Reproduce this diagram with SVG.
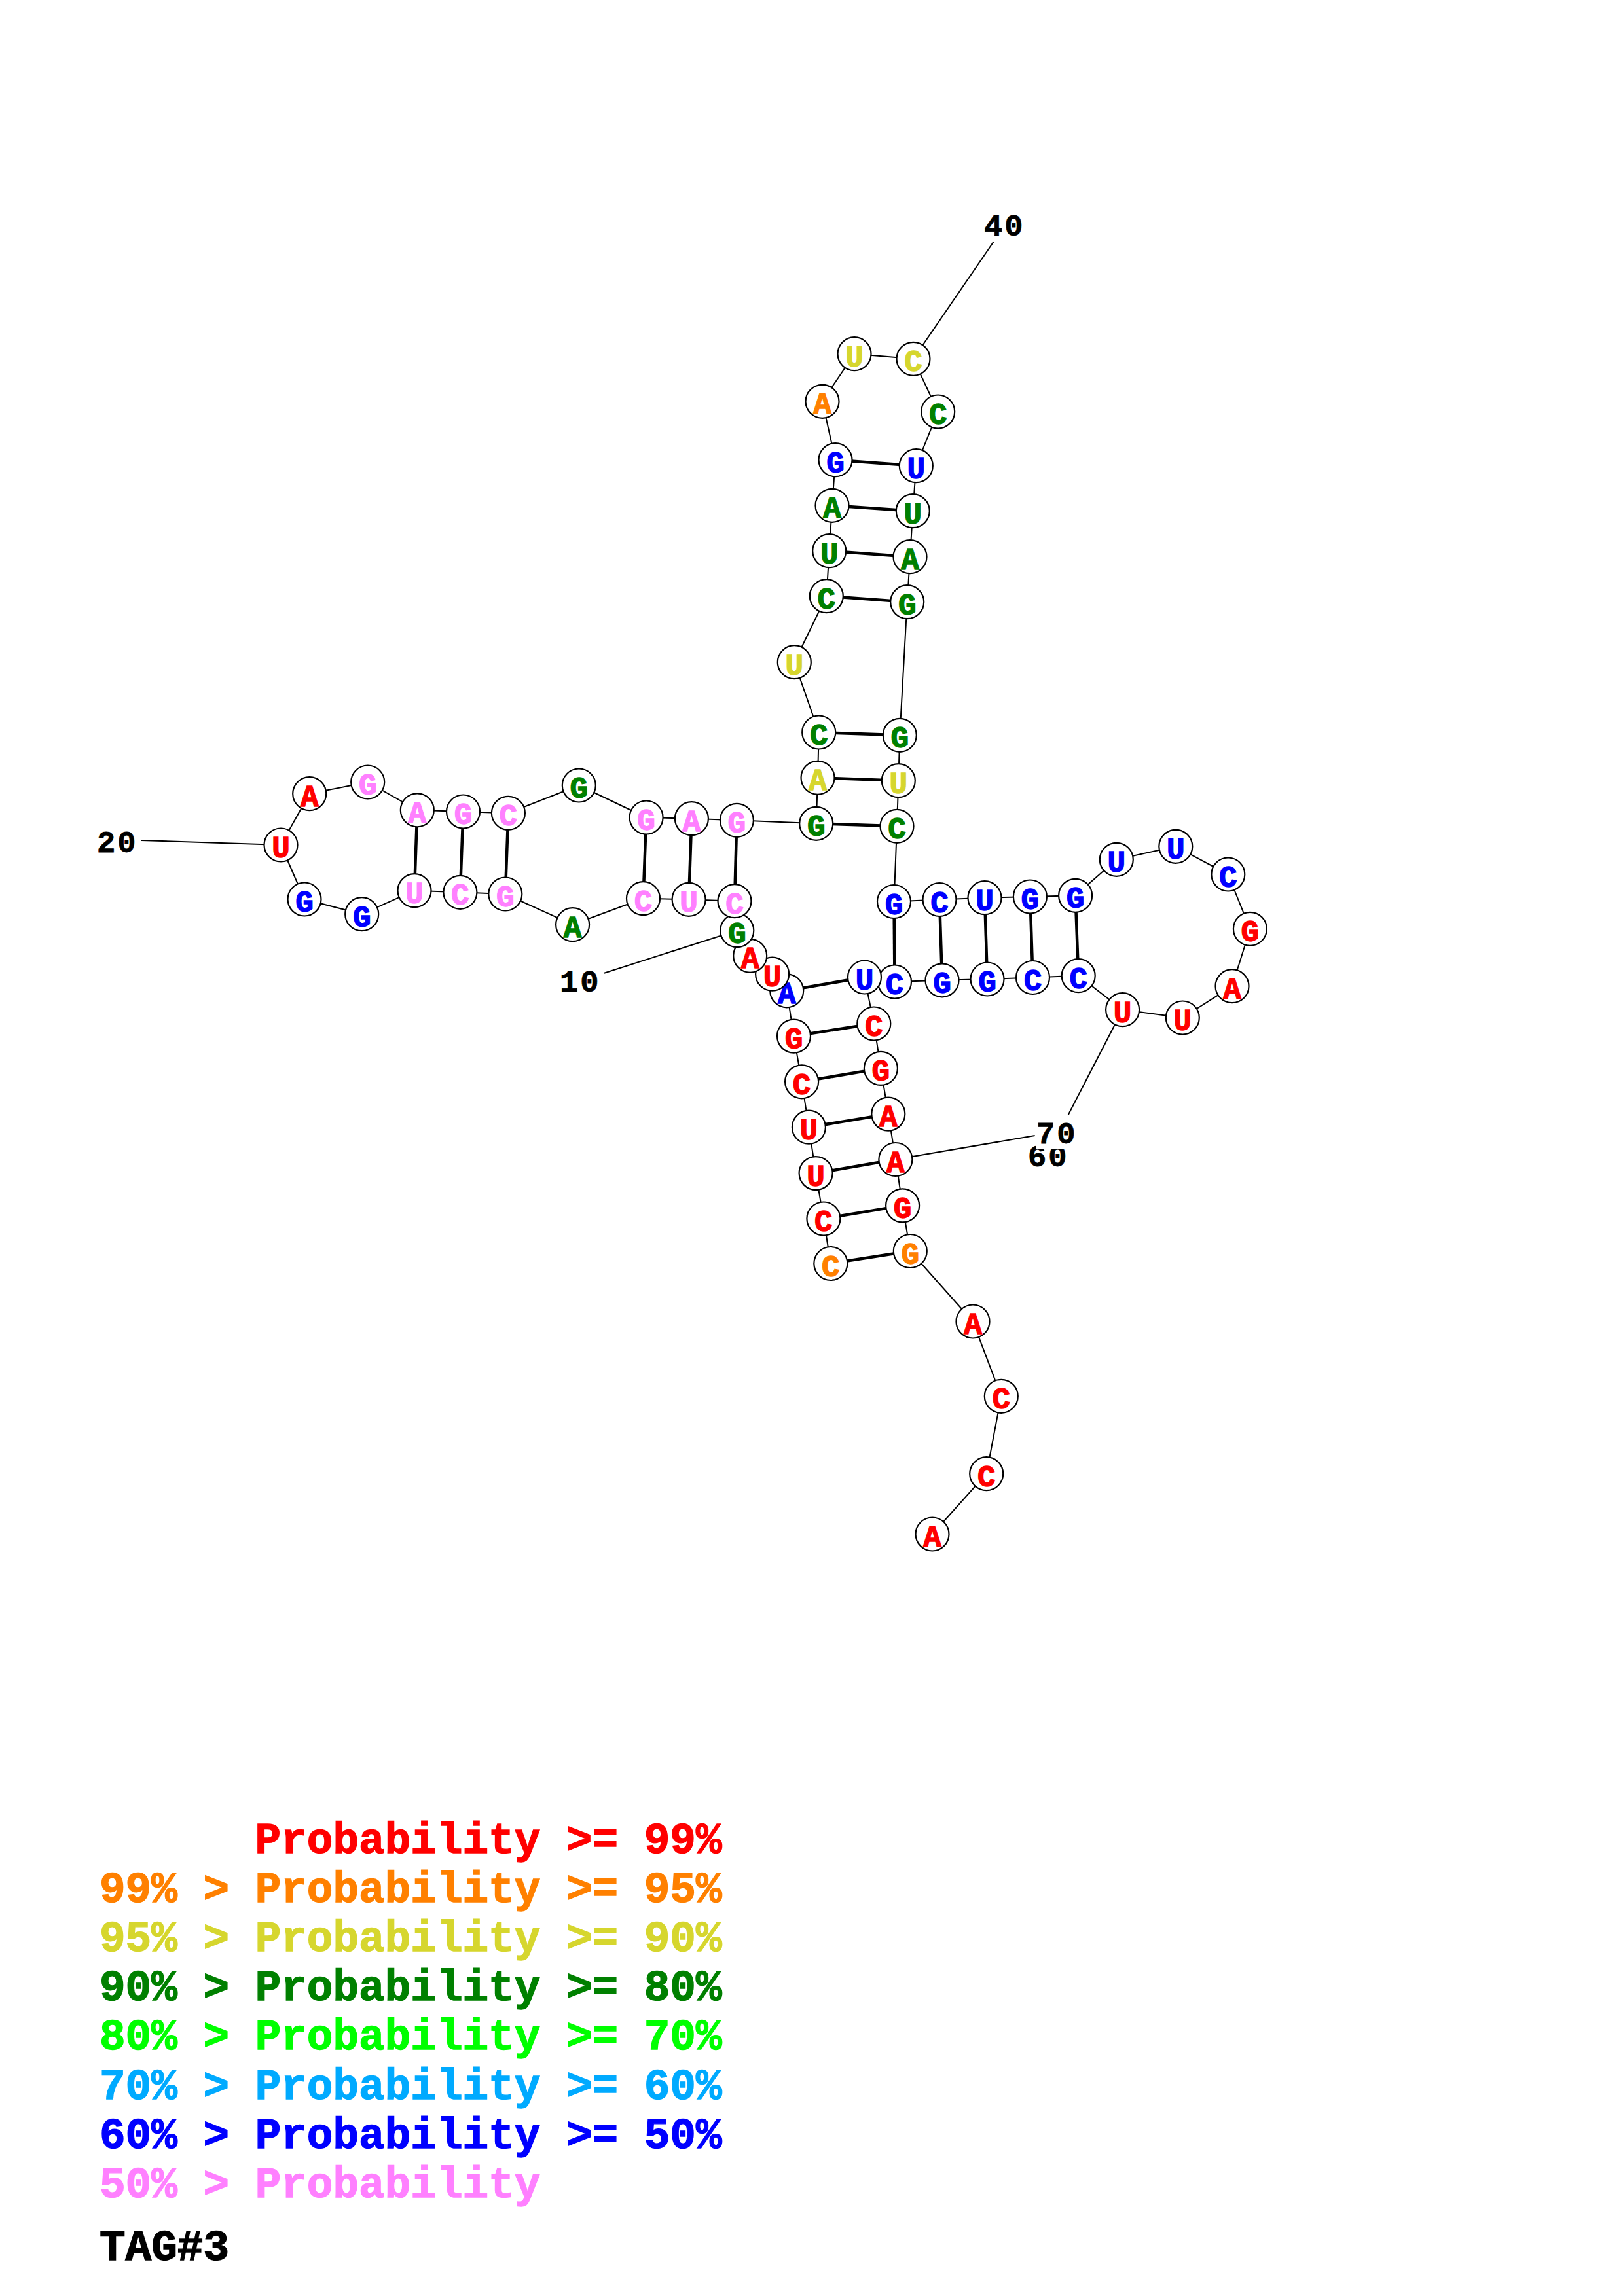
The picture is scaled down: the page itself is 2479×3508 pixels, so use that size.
<svg xmlns="http://www.w3.org/2000/svg" width="2479" height="3508" viewBox="0 0 2479 3508">
<style>
.bb{stroke:#000;stroke-width:2;fill:none}
.bp{stroke:#000;stroke-width:4.5;fill:none}
.ll{stroke:#000;stroke-width:2;fill:none}
circle{fill:#fff;stroke:#000;stroke-width:2.2}
.nt{font-family:"Liberation Mono","DejaVu Sans Mono",monospace;font-weight:bold;font-size:46px;text-anchor:middle;stroke-width:1.4}
.lab{font-family:"Liberation Mono","DejaVu Sans Mono",monospace;font-weight:bold;font-size:47px;letter-spacing:3px;fill:#000;stroke:#000;stroke-width:0.8}
.lg{font-family:"Liberation Mono","DejaVu Sans Mono",monospace;font-weight:bold;font-size:66px;stroke-width:1.4}
.r{fill:#ff0000;stroke:#ff0000}.o{fill:#ff8000;stroke:#ff8000}.y{fill:#d6d62e;stroke:#d6d62e}.g{fill:#008000;stroke:#008000}.lm{fill:#00ff00;stroke:#00ff00}.lb{fill:#00aaff;stroke:#00aaff}.b{fill:#0000ff;stroke:#0000ff}.p{fill:#ff80ff;stroke:#ff80ff}.k{fill:#000;stroke:#000}
</style>
<rect x="0" y="0" width="2479" height="3508" fill="#fff"/>
<g id="connectors">
<g id="backbone">
<line class="bb" x1="1268.8" y1="1930.5" x2="1257.9" y2="1862"/>
<line class="bb" x1="1257.9" y1="1862" x2="1246.1" y2="1792.6"/>
<line class="bb" x1="1246.1" y1="1792.6" x2="1235.4" y2="1722.2"/>
<line class="bb" x1="1235.4" y1="1722.2" x2="1224.6" y2="1652.8"/>
<line class="bb" x1="1224.6" y1="1652.8" x2="1212.5" y2="1583.1"/>
<line class="bb" x1="1212.5" y1="1583.1" x2="1201.7" y2="1513.8"/>
<line class="bb" x1="1201.7" y1="1513.8" x2="1179.6" y2="1488.2"/>
<line class="bb" x1="1179.6" y1="1488.2" x2="1145.7" y2="1460.3"/>
<line class="bb" x1="1145.7" y1="1460.3" x2="1125.8" y2="1421.7"/>
<line class="bb" x1="1125.8" y1="1421.7" x2="1122" y2="1376.7"/>
<line class="bb" x1="1122" y1="1376.7" x2="1052.1" y2="1374.3"/>
<line class="bb" x1="1052.1" y1="1374.3" x2="982.5" y2="1372.7"/>
<line class="bb" x1="982.5" y1="1372.7" x2="874.6" y2="1412.7"/>
<line class="bb" x1="874.6" y1="1412.7" x2="771.8" y2="1366"/>
<line class="bb" x1="771.8" y1="1366" x2="702.9" y2="1363.3"/>
<line class="bb" x1="702.9" y1="1363.3" x2="633" y2="1360.7"/>
<line class="bb" x1="633" y1="1360.7" x2="552.7" y2="1396.7"/>
<line class="bb" x1="552.7" y1="1396.7" x2="465" y2="1374"/>
<line class="bb" x1="465" y1="1374" x2="429" y2="1291"/>
<line class="bb" x1="429" y1="1291" x2="472.7" y2="1212.7"/>
<line class="bb" x1="472.7" y1="1212.7" x2="561.7" y2="1195"/>
<line class="bb" x1="561.7" y1="1195" x2="637.3" y2="1237.8"/>
<line class="bb" x1="637.3" y1="1237.8" x2="707.5" y2="1240"/>
<line class="bb" x1="707.5" y1="1240" x2="776.4" y2="1242.3"/>
<line class="bb" x1="776.4" y1="1242.3" x2="884.3" y2="1200"/>
<line class="bb" x1="884.3" y1="1200" x2="987.1" y2="1249"/>
<line class="bb" x1="987.1" y1="1249" x2="1056.4" y2="1250.7"/>
<line class="bb" x1="1056.4" y1="1250.7" x2="1125.4" y2="1253.3"/>
<line class="bb" x1="1125.4" y1="1253.3" x2="1246.7" y2="1258.3"/>
<line class="bb" x1="1246.7" y1="1258.3" x2="1249" y2="1188.3"/>
<line class="bb" x1="1249" y1="1188.3" x2="1250.7" y2="1119"/>
<line class="bb" x1="1250.7" y1="1119" x2="1213.3" y2="1011.7"/>
<line class="bb" x1="1213.3" y1="1011.7" x2="1262.3" y2="910.7"/>
<line class="bb" x1="1262.3" y1="910.7" x2="1266.7" y2="841.7"/>
<line class="bb" x1="1266.7" y1="841.7" x2="1271" y2="772.3"/>
<line class="bb" x1="1271" y1="772.3" x2="1276" y2="702.7"/>
<line class="bb" x1="1276" y1="702.7" x2="1256" y2="613.3"/>
<line class="bb" x1="1256" y1="613.3" x2="1305" y2="540.7"/>
<line class="bb" x1="1305" y1="540.7" x2="1395" y2="548.3"/>
<line class="bb" x1="1395" y1="548.3" x2="1432.7" y2="629"/>
<line class="bb" x1="1432.7" y1="629" x2="1399.3" y2="711.7"/>
<line class="bb" x1="1399.3" y1="711.7" x2="1394.3" y2="780.7"/>
<line class="bb" x1="1394.3" y1="780.7" x2="1390" y2="850.7"/>
<line class="bb" x1="1390" y1="850.7" x2="1385.7" y2="919.7"/>
<line class="bb" x1="1385.7" y1="919.7" x2="1374.3" y2="1123.3"/>
<line class="bb" x1="1374.3" y1="1123.3" x2="1372.3" y2="1192.7"/>
<line class="bb" x1="1372.3" y1="1192.7" x2="1370" y2="1262.3"/>
<line class="bb" x1="1370" y1="1262.3" x2="1365.5" y2="1377.5"/>
<line class="bb" x1="1365.5" y1="1377.5" x2="1435" y2="1374.5"/>
<line class="bb" x1="1435" y1="1374.5" x2="1504" y2="1371.7"/>
<line class="bb" x1="1504" y1="1371.7" x2="1573.4" y2="1370"/>
<line class="bb" x1="1573.4" y1="1370" x2="1642.6" y2="1368.3"/>
<line class="bb" x1="1642.6" y1="1368.3" x2="1705.3" y2="1313.3"/>
<line class="bb" x1="1705.3" y1="1313.3" x2="1795.8" y2="1293.3"/>
<line class="bb" x1="1795.8" y1="1293.3" x2="1875.8" y2="1336"/>
<line class="bb" x1="1875.8" y1="1336" x2="1909.4" y2="1419.3"/>
<line class="bb" x1="1909.4" y1="1419.3" x2="1882" y2="1506.7"/>
<line class="bb" x1="1882" y1="1506.7" x2="1806.3" y2="1555"/>
<line class="bb" x1="1806.3" y1="1555" x2="1714.6" y2="1542.7"/>
<line class="bb" x1="1714.6" y1="1542.7" x2="1647.2" y2="1490.7"/>
<line class="bb" x1="1647.2" y1="1490.7" x2="1577.5" y2="1493.5"/>
<line class="bb" x1="1577.5" y1="1493.5" x2="1508" y2="1496"/>
<line class="bb" x1="1508" y1="1496" x2="1439" y2="1497.8"/>
<line class="bb" x1="1439" y1="1497.8" x2="1366.5" y2="1500"/>
<line class="bb" x1="1366.5" y1="1500" x2="1320.5" y2="1493"/>
<line class="bb" x1="1320.5" y1="1493" x2="1334.8" y2="1564"/>
<line class="bb" x1="1334.8" y1="1564" x2="1345.4" y2="1632.4"/>
<line class="bb" x1="1345.4" y1="1632.4" x2="1356.8" y2="1702.1"/>
<line class="bb" x1="1356.8" y1="1702.1" x2="1367.9" y2="1771.5"/>
<line class="bb" x1="1367.9" y1="1771.5" x2="1378.6" y2="1841.9"/>
<line class="bb" x1="1378.6" y1="1841.9" x2="1390.3" y2="1911.5"/>
<line class="bb" x1="1390.3" y1="1911.5" x2="1486" y2="2019"/>
<line class="bb" x1="1486" y1="2019" x2="1529.3" y2="2133.3"/>
<line class="bb" x1="1529.3" y1="2133.3" x2="1506.7" y2="2251.7"/>
<line class="bb" x1="1506.7" y1="2251.7" x2="1424" y2="2344"/>
</g>
<g id="pairs">
<line class="bp" x1="1268.8" y1="1930.5" x2="1390.3" y2="1911.5"/>
<line class="bp" x1="1257.9" y1="1862" x2="1378.6" y2="1841.9"/>
<line class="bp" x1="1246.1" y1="1792.6" x2="1367.9" y2="1771.5"/>
<line class="bp" x1="1235.4" y1="1722.2" x2="1356.8" y2="1702.1"/>
<line class="bp" x1="1224.6" y1="1652.8" x2="1345.4" y2="1632.4"/>
<line class="bp" x1="1212.5" y1="1583.1" x2="1334.8" y2="1564"/>
<line class="bp" x1="1201.7" y1="1513.8" x2="1320.5" y2="1493"/>
<line class="bp" x1="1122" y1="1376.7" x2="1125.4" y2="1253.3"/>
<line class="bp" x1="1052.1" y1="1374.3" x2="1056.4" y2="1250.7"/>
<line class="bp" x1="982.5" y1="1372.7" x2="987.1" y2="1249"/>
<line class="bp" x1="771.8" y1="1366" x2="776.4" y2="1242.3"/>
<line class="bp" x1="702.9" y1="1363.3" x2="707.5" y2="1240"/>
<line class="bp" x1="633" y1="1360.7" x2="637.3" y2="1237.8"/>
<line class="bp" x1="1246.7" y1="1258.3" x2="1370" y2="1262.3"/>
<line class="bp" x1="1249" y1="1188.3" x2="1372.3" y2="1192.7"/>
<line class="bp" x1="1250.7" y1="1119" x2="1374.3" y2="1123.3"/>
<line class="bp" x1="1262.3" y1="910.7" x2="1385.7" y2="919.7"/>
<line class="bp" x1="1266.7" y1="841.7" x2="1390" y2="850.7"/>
<line class="bp" x1="1271" y1="772.3" x2="1394.3" y2="780.7"/>
<line class="bp" x1="1276" y1="702.7" x2="1399.3" y2="711.7"/>
<line class="bp" x1="1365.5" y1="1377.5" x2="1366.5" y2="1500"/>
<line class="bp" x1="1435" y1="1374.5" x2="1439" y2="1497.8"/>
<line class="bp" x1="1504" y1="1371.7" x2="1508" y2="1496"/>
<line class="bp" x1="1573.4" y1="1370" x2="1577.5" y2="1493.5"/>
<line class="bp" x1="1642.6" y1="1368.3" x2="1647.2" y2="1490.7"/>
</g>
<g id="label-lines">
<line class="ll" x1="1395" y1="548.3" x2="1517.7" y2="369.3"/>
<line class="ll" x1="429" y1="1291" x2="216" y2="1284"/>
<line class="ll" x1="1125.8" y1="1421.7" x2="922.9" y2="1486.7"/>
<line class="ll" x1="1367.9" y1="1771.5" x2="1580.7" y2="1735"/>
<line class="ll" x1="1714.6" y1="1542.7" x2="1631.7" y2="1703.3"/>
</g>
</g>
<g id="nodes">
<g id="n1"><circle cx="1268.8" cy="1930.5" r="25.5"/><text class="nt o" x="1268.8" y="1949.5">C</text></g>
<g id="n2"><circle cx="1257.9" cy="1862" r="25.5"/><text class="nt r" x="1257.9" y="1881">C</text></g>
<g id="n3"><circle cx="1246.1" cy="1792.6" r="25.5"/><text class="nt r" x="1246.1" y="1811.6">U</text></g>
<g id="n4"><circle cx="1235.4" cy="1722.2" r="25.5"/><text class="nt r" x="1235.4" y="1741.2">U</text></g>
<g id="n5"><circle cx="1224.6" cy="1652.8" r="25.5"/><text class="nt r" x="1224.6" y="1671.8">C</text></g>
<g id="n6"><circle cx="1212.5" cy="1583.1" r="25.5"/><text class="nt r" x="1212.5" y="1602.1">G</text></g>
<g id="n7"><circle cx="1201.7" cy="1513.8" r="25.5"/><text class="nt b" x="1201.7" y="1532.8">A</text></g>
<g id="n8"><circle cx="1179.6" cy="1488.2" r="25.5"/><text class="nt r" x="1179.6" y="1507.2">U</text></g>
<g id="n9"><circle cx="1145.7" cy="1460.3" r="25.5"/><text class="nt r" x="1145.7" y="1479.3">A</text></g>
<g id="n10"><circle cx="1125.8" cy="1421.7" r="25.5"/><text class="nt g" x="1125.8" y="1440.7">G</text></g>
<g id="n11"><circle cx="1122" cy="1376.7" r="25.5"/><text class="nt p" x="1122" y="1395.7">C</text></g>
<g id="n12"><circle cx="1052.1" cy="1374.3" r="25.5"/><text class="nt p" x="1052.1" y="1393.3">U</text></g>
<g id="n13"><circle cx="982.5" cy="1372.7" r="25.5"/><text class="nt p" x="982.5" y="1391.7">C</text></g>
<g id="n14"><circle cx="874.6" cy="1412.7" r="25.5"/><text class="nt g" x="874.6" y="1431.7">A</text></g>
<g id="n15"><circle cx="771.8" cy="1366" r="25.5"/><text class="nt p" x="771.8" y="1385">G</text></g>
<g id="n16"><circle cx="702.9" cy="1363.3" r="25.5"/><text class="nt p" x="702.9" y="1382.3">C</text></g>
<g id="n17"><circle cx="633" cy="1360.7" r="25.5"/><text class="nt p" x="633" y="1379.7">U</text></g>
<g id="n18"><circle cx="552.7" cy="1396.7" r="25.5"/><text class="nt b" x="552.7" y="1415.7">G</text></g>
<g id="n19"><circle cx="465" cy="1374" r="25.5"/><text class="nt b" x="465" y="1393">G</text></g>
<g id="n20"><circle cx="429" cy="1291" r="25.5"/><text class="nt r" x="429" y="1310">U</text></g>
<g id="n21"><circle cx="472.7" cy="1212.7" r="25.5"/><text class="nt r" x="472.7" y="1231.7">A</text></g>
<g id="n22"><circle cx="561.7" cy="1195" r="25.5"/><text class="nt p" x="561.7" y="1214">G</text></g>
<g id="n23"><circle cx="637.3" cy="1237.8" r="25.5"/><text class="nt p" x="637.3" y="1256.8">A</text></g>
<g id="n24"><circle cx="707.5" cy="1240" r="25.5"/><text class="nt p" x="707.5" y="1259">G</text></g>
<g id="n25"><circle cx="776.4" cy="1242.3" r="25.5"/><text class="nt p" x="776.4" y="1261.3">C</text></g>
<g id="n26"><circle cx="884.3" cy="1200" r="25.5"/><text class="nt g" x="884.3" y="1219">G</text></g>
<g id="n27"><circle cx="987.1" cy="1249" r="25.5"/><text class="nt p" x="987.1" y="1268">G</text></g>
<g id="n28"><circle cx="1056.4" cy="1250.7" r="25.5"/><text class="nt p" x="1056.4" y="1269.7">A</text></g>
<g id="n29"><circle cx="1125.4" cy="1253.3" r="25.5"/><text class="nt p" x="1125.4" y="1272.3">G</text></g>
<g id="n30"><circle cx="1246.7" cy="1258.3" r="25.5"/><text class="nt g" x="1246.7" y="1277.3">G</text></g>
<g id="n31"><circle cx="1249" cy="1188.3" r="25.5"/><text class="nt y" x="1249" y="1207.3">A</text></g>
<g id="n32"><circle cx="1250.7" cy="1119" r="25.5"/><text class="nt g" x="1250.7" y="1138">C</text></g>
<g id="n33"><circle cx="1213.3" cy="1011.7" r="25.5"/><text class="nt y" x="1213.3" y="1030.7">U</text></g>
<g id="n34"><circle cx="1262.3" cy="910.7" r="25.5"/><text class="nt g" x="1262.3" y="929.7">C</text></g>
<g id="n35"><circle cx="1266.7" cy="841.7" r="25.5"/><text class="nt g" x="1266.7" y="860.7">U</text></g>
<g id="n36"><circle cx="1271" cy="772.3" r="25.5"/><text class="nt g" x="1271" y="791.3">A</text></g>
<g id="n37"><circle cx="1276" cy="702.7" r="25.5"/><text class="nt b" x="1276" y="721.7">G</text></g>
<g id="n38"><circle cx="1256" cy="613.3" r="25.5"/><text class="nt o" x="1256" y="632.3">A</text></g>
<g id="n39"><circle cx="1305" cy="540.7" r="25.5"/><text class="nt y" x="1305" y="559.7">U</text></g>
<g id="n40"><circle cx="1395" cy="548.3" r="25.5"/><text class="nt y" x="1395" y="567.3">C</text></g>
<g id="n41"><circle cx="1432.7" cy="629" r="25.5"/><text class="nt g" x="1432.7" y="648">C</text></g>
<g id="n42"><circle cx="1399.3" cy="711.7" r="25.5"/><text class="nt b" x="1399.3" y="730.7">U</text></g>
<g id="n43"><circle cx="1394.3" cy="780.7" r="25.5"/><text class="nt g" x="1394.3" y="799.7">U</text></g>
<g id="n44"><circle cx="1390" cy="850.7" r="25.5"/><text class="nt g" x="1390" y="869.7">A</text></g>
<g id="n45"><circle cx="1385.7" cy="919.7" r="25.5"/><text class="nt g" x="1385.7" y="938.7">G</text></g>
<g id="n46"><circle cx="1374.3" cy="1123.3" r="25.5"/><text class="nt g" x="1374.3" y="1142.3">G</text></g>
<g id="n47"><circle cx="1372.3" cy="1192.7" r="25.5"/><text class="nt y" x="1372.3" y="1211.7">U</text></g>
<g id="n48"><circle cx="1370" cy="1262.3" r="25.5"/><text class="nt g" x="1370" y="1281.3">C</text></g>
<g id="n49"><circle cx="1365.5" cy="1377.5" r="25.5"/><text class="nt b" x="1365.5" y="1396.5">G</text></g>
<g id="n50"><circle cx="1435" cy="1374.5" r="25.5"/><text class="nt b" x="1435" y="1393.5">C</text></g>
<g id="n51"><circle cx="1504" cy="1371.7" r="25.5"/><text class="nt b" x="1504" y="1390.7">U</text></g>
<g id="n52"><circle cx="1573.4" cy="1370" r="25.5"/><text class="nt b" x="1573.4" y="1389">G</text></g>
<g id="n53"><circle cx="1642.6" cy="1368.3" r="25.5"/><text class="nt b" x="1642.6" y="1387.3">G</text></g>
<g id="n54"><circle cx="1705.3" cy="1313.3" r="25.5"/><text class="nt b" x="1705.3" y="1332.3">U</text></g>
<g id="n55"><circle cx="1795.8" cy="1293.3" r="25.5"/><text class="nt b" x="1795.8" y="1312.3">U</text></g>
<g id="n56"><circle cx="1875.8" cy="1336" r="25.5"/><text class="nt b" x="1875.8" y="1355">C</text></g>
<g id="n57"><circle cx="1909.4" cy="1419.3" r="25.5"/><text class="nt r" x="1909.4" y="1438.3">G</text></g>
<g id="n58"><circle cx="1882" cy="1506.7" r="25.5"/><text class="nt r" x="1882" y="1525.7">A</text></g>
<g id="n59"><circle cx="1806.3" cy="1555" r="25.5"/><text class="nt r" x="1806.3" y="1574">U</text></g>
<g id="n60"><circle cx="1714.6" cy="1542.7" r="25.5"/><text class="nt r" x="1714.6" y="1561.7">U</text></g>
<g id="n61"><circle cx="1647.2" cy="1490.7" r="25.5"/><text class="nt b" x="1647.2" y="1509.7">C</text></g>
<g id="n62"><circle cx="1577.5" cy="1493.5" r="25.5"/><text class="nt b" x="1577.5" y="1512.5">C</text></g>
<g id="n63"><circle cx="1508" cy="1496" r="25.5"/><text class="nt b" x="1508" y="1515">G</text></g>
<g id="n64"><circle cx="1439" cy="1497.8" r="25.5"/><text class="nt b" x="1439" y="1516.8">G</text></g>
<g id="n65"><circle cx="1366.5" cy="1500" r="25.5"/><text class="nt b" x="1366.5" y="1519">C</text></g>
<g id="n66"><circle cx="1320.5" cy="1493" r="25.5"/><text class="nt b" x="1320.5" y="1512">U</text></g>
<g id="n67"><circle cx="1334.8" cy="1564" r="25.5"/><text class="nt r" x="1334.8" y="1583">C</text></g>
<g id="n68"><circle cx="1345.4" cy="1632.4" r="25.5"/><text class="nt r" x="1345.4" y="1651.4">G</text></g>
<g id="n69"><circle cx="1356.8" cy="1702.1" r="25.5"/><text class="nt r" x="1356.8" y="1721.1">A</text></g>
<g id="n70"><circle cx="1367.9" cy="1771.5" r="25.5"/><text class="nt r" x="1367.9" y="1790.5">A</text></g>
<g id="n71"><circle cx="1378.6" cy="1841.9" r="25.5"/><text class="nt r" x="1378.6" y="1860.9">G</text></g>
<g id="n72"><circle cx="1390.3" cy="1911.5" r="25.5"/><text class="nt o" x="1390.3" y="1930.5">G</text></g>
<g id="n73"><circle cx="1486" cy="2019" r="25.5"/><text class="nt r" x="1486" y="2038">A</text></g>
<g id="n74"><circle cx="1529.3" cy="2133.3" r="25.5"/><text class="nt r" x="1529.3" y="2152.3">C</text></g>
<g id="n75"><circle cx="1506.7" cy="2251.7" r="25.5"/><text class="nt r" x="1506.7" y="2270.7">C</text></g>
<g id="n76"><circle cx="1424" cy="2344" r="25.5"/><text class="nt r" x="1424" y="2363">A</text></g>
</g>
<g id="labels">
<text class="lab" x="1503" y="360">40</text>
<text class="lab" x="148" y="1302">20</text>
<text class="lab" x="855" y="1515">10</text>
<text class="lab" x="1570" y="1782">60</text>
<rect x="1582" y="1710" width="66" height="45" fill="#fff"/>
<text class="lab" x="1583" y="1747">70</text>
</g>
<g id="legend">
<text class="lg r" x="389.6" y="2831">Probability &gt;= 99%</text>
<text class="lg o" x="152" y="2906">99% &gt; Probability &gt;= 95%</text>
<text class="lg y" x="152" y="2981">95% &gt; Probability &gt;= 90%</text>
<text class="lg g" x="152" y="3056">90% &gt; Probability &gt;= 80%</text>
<text class="lg lm" x="152" y="3131">80% &gt; Probability &gt;= 70%</text>
<text class="lg lb" x="152" y="3207">70% &gt; Probability &gt;= 60%</text>
<text class="lg b" x="152" y="3282">60% &gt; Probability &gt;= 50%</text>
<text class="lg p" x="152" y="3357">50% &gt; Probability</text>
<text class="lg k" x="152" y="3453">TAG#3</text>
</g>
</svg>
